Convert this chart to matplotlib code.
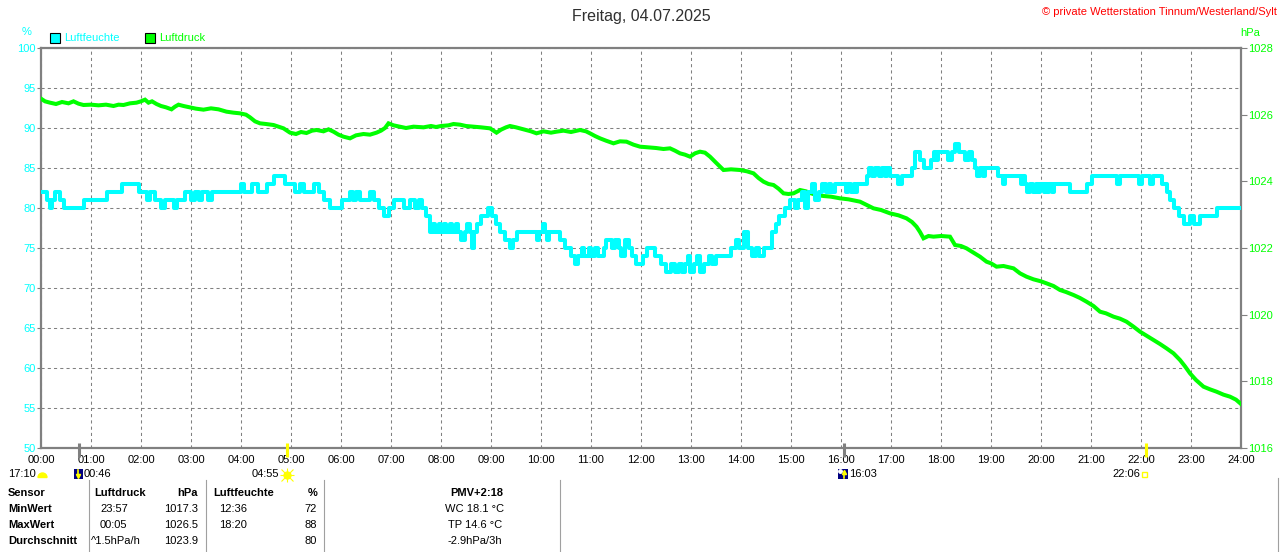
import matplotlib
matplotlib.use("Agg")
import matplotlib.pyplot as plt
import matplotlib.transforms as mtransforms
from matplotlib.patches import Rectangle, Wedge

plt.rcParams['font.family'] = ['Liberation Sans', 'DejaVu Sans']

# ---- data -------------------------------------------------------------
title = 'Freitag, 04.07.2025'
copyright_text = '\u00a9 private Wetterstation Tinnum/Westerland/Sylt'

hours = list(range(25))
hour_labels = ['%02d:00' % h for h in hours]
hum_ticks = [50, 55, 60, 65, 70, 75, 80, 85, 90, 95, 100]
press_ticks = [1016, 1018, 1020, 1022, 1024, 1026, 1028]

# Luftfeuchte (%), stepwise
hum_t = [0.00, 0.12, 0.18, 0.22, 0.27, 0.38, 0.45, 0.85, 1.31, 1.61, 1.95, 2.11, 2.18, 2.27, 2.40, 2.47,
         2.65, 2.72, 2.88, 3.00, 3.07, 3.15, 3.22, 3.33, 3.42, 4.00, 4.05, 4.21, 4.33, 4.51, 4.66, 4.88,
         5.08, 5.18, 5.25, 5.45, 5.55, 5.65, 5.78, 6.01, 6.18, 6.24, 6.30, 6.38, 6.58, 6.65, 6.75, 6.85,
         6.95, 7.05, 7.25, 7.38, 7.48, 7.55, 7.62, 7.70,
         7.78, 7.84, 7.88, 7.95, 8.00, 8.06, 8.10, 8.18, 8.22, 8.30, 8.34, 8.40, 8.48, 8.53, 8.58, 8.61,
         8.66, 8.72, 8.80, 8.95, 9.02, 9.10, 9.18, 9.28, 9.38, 9.44, 9.51, 9.91, 9.96, 10.03, 10.07, 10.11,
         10.16, 10.38, 10.48, 10.60, 10.68, 10.74, 10.82, 10.86, 10.95, 11.00, 11.08, 11.14, 11.25, 11.30,
         11.42, 11.48, 11.55, 11.60, 11.68, 11.76, 11.82, 11.90,
         12.04, 12.12, 12.28, 12.40, 12.50, 12.60, 12.68, 12.75, 12.82, 12.88, 12.93, 12.98, 13.06, 13.12,
         13.18, 13.26, 13.35, 13.42, 13.50, 13.80, 13.90, 13.95, 14.05, 14.14, 14.22, 14.30, 14.36, 14.46,
         14.62, 14.70, 14.76, 14.88, 14.98, 15.08, 15.13, 15.22, 15.28, 15.33, 15.42, 15.48, 15.55, 15.62,
         15.70, 15.75, 15.80, 15.88,
         16.10, 16.15, 16.20, 16.25, 16.28, 16.32, 16.51, 16.55, 16.62, 16.68, 16.75, 16.82, 16.88, 16.92,
         16.98, 17.15, 17.22, 17.41, 17.48, 17.58, 17.66, 17.80, 17.86, 17.90, 17.93, 18.15, 18.22, 18.28,
         18.35, 18.48, 18.55, 18.62, 18.68, 18.72, 18.78, 18.84, 18.88, 19.15, 19.23, 19.27, 19.60, 19.64,
         19.68, 19.72, 19.78, 19.84, 19.90, 19.94, 19.98, 20.05, 20.08, 20.12, 20.15, 20.22, 20.26, 20.58,
         20.91, 21.01, 21.51, 21.58, 21.95, 22.01, 22.18, 22.24, 22.41, 22.52, 22.58, 22.65, 22.75, 22.85,
         22.98, 23.05, 23.18, 23.52, 24.00]
hum_v = [82, 81, 80, 81, 82, 81, 80, 81, 82, 83, 82, 81, 82, 81, 80, 81,
         80, 81, 82, 81, 82, 81, 82, 81, 82, 83, 82, 83, 82, 83, 84, 83,
         82, 83, 82, 83, 82, 81, 80, 81, 82, 81, 82, 81, 82, 81, 80, 79,
         80, 81, 80, 81, 80, 81, 80, 79,
         77, 78, 77, 78, 77, 78, 77, 78, 77, 78, 77, 76, 77, 78, 77, 75,
         77, 78, 79, 80, 79, 78, 77, 76, 75, 76, 77, 76, 77, 78, 77, 76,
         77, 76, 75, 74, 73, 74, 75, 74, 75, 74, 75, 74, 75, 76,
         75, 76, 75, 74, 76, 75, 74, 73,
         74, 75, 74, 73, 72, 73, 72, 73, 72, 73, 74, 72, 73, 74,
         72, 73, 74, 73, 74, 75, 76, 75, 77, 75, 74, 75, 74, 75,
         77, 78, 79, 80, 81, 80, 81, 82, 80, 82, 83, 81, 82, 83,
         82, 83, 82, 83,
         82, 83, 82, 83, 82, 83, 84, 85, 84, 85, 84, 85, 84, 85,
         84, 83, 84, 85, 87, 86, 85, 86, 87, 86, 87, 86, 87, 88,
         87, 86, 87, 86, 85, 84, 85, 84, 85, 84, 83, 84, 83, 84,
         83, 82, 83, 82, 83, 82, 83, 82, 83, 82, 83, 82, 83, 82,
         83, 84, 83, 84, 83, 84, 83, 84, 83, 82, 81, 80, 79, 78,
         79, 78, 79, 80, 80]

# Luftdruck (hPa)
press_t = [0.00, 0.08, 0.18, 0.30, 0.42, 0.55, 0.65, 0.75, 0.85, 1.00, 1.15, 1.30, 1.45, 1.55, 1.65, 1.78, 1.91,
           2.00, 2.08, 2.15, 2.22, 2.31, 2.40, 2.50, 2.61, 2.68, 2.75, 2.85, 2.98, 3.10, 3.25, 3.40, 3.55, 3.71, 3.85,
           3.98, 4.10, 4.18, 4.28, 4.38, 4.50, 4.65, 4.75, 4.85, 4.98, 5.10, 5.20, 5.31, 5.42, 5.51, 5.65, 5.75, 5.85, 5.95,
           6.05, 6.18, 6.30, 6.45, 6.58, 6.71, 6.80, 6.88, 6.95, 7.05, 7.18, 7.30, 7.45, 7.65, 7.80, 7.90,
           8.00, 8.15, 8.25, 8.38, 8.50, 8.65, 8.80, 8.98, 9.05, 9.11, 9.20, 9.30, 9.38, 9.50, 9.65, 9.80, 9.91,
           10.05, 10.20, 10.31, 10.45, 10.60, 10.78, 10.90, 10.98, 11.08, 11.18, 11.30, 11.45, 11.58, 11.71, 11.85, 11.98,
           12.15, 12.30, 12.45, 12.58, 12.68, 12.78, 12.88, 12.98, 13.08, 13.18, 13.28, 13.38, 13.50, 13.65, 13.80, 13.98,
           14.12, 14.25, 14.35, 14.45, 14.55, 14.65, 14.75, 14.85, 14.95, 15.05, 15.18, 15.30, 15.40, 15.51, 15.65, 15.80,
           15.98, 16.15, 16.38, 16.50, 16.65, 16.80, 16.98, 17.15, 17.31, 17.42, 17.51, 17.58, 17.65, 17.75, 17.85,
           18.00, 18.18, 18.28, 18.40, 18.51, 18.65, 18.78, 18.91, 19.00, 19.11, 19.25, 19.45, 19.58, 19.71, 19.85,
           20.00, 20.11, 20.25, 20.38, 20.50, 20.65, 20.78, 20.91, 21.05, 21.18, 21.30, 21.45, 21.58, 21.71, 21.85,
           21.98, 22.10, 22.25, 22.38, 22.51, 22.65, 22.78, 22.88, 22.98, 23.10, 23.25, 23.38, 23.51, 23.65, 23.78, 23.90, 24.00]
press_v = [1026.48, 1026.40, 1026.36, 1026.32, 1026.38, 1026.34, 1026.40, 1026.33, 1026.29, 1026.30, 1026.28, 1026.30,
           1026.26, 1026.30, 1026.29, 1026.34, 1026.36,
           1026.40, 1026.45, 1026.36, 1026.40, 1026.32, 1026.26, 1026.22, 1026.16, 1026.24, 1026.30, 1026.26, 1026.22,
           1026.18, 1026.15, 1026.19, 1026.16, 1026.09, 1026.06,
           1026.04, 1026.00, 1025.92, 1025.80, 1025.74, 1025.72, 1025.69, 1025.64, 1025.59, 1025.46, 1025.42, 1025.48,
           1025.45, 1025.52, 1025.54, 1025.50, 1025.56, 1025.49, 1025.40,
           1025.34, 1025.29, 1025.38, 1025.42, 1025.40, 1025.46, 1025.52, 1025.60, 1025.74, 1025.68, 1025.64, 1025.60,
           1025.64, 1025.62, 1025.66, 1025.63,
           1025.66, 1025.68, 1025.72, 1025.70, 1025.66, 1025.64, 1025.62, 1025.59, 1025.52, 1025.46, 1025.55, 1025.62,
           1025.66, 1025.62, 1025.56, 1025.50, 1025.44,
           1025.50, 1025.46, 1025.49, 1025.52, 1025.48, 1025.54, 1025.50, 1025.44, 1025.36, 1025.29, 1025.22, 1025.14,
           1025.20, 1025.19, 1025.10, 1025.04,
           1025.02, 1025.00, 1024.97, 1024.99, 1024.92, 1024.84, 1024.80, 1024.74, 1024.84, 1024.89, 1024.86, 1024.74,
           1024.56, 1024.34, 1024.36, 1024.34,
           1024.30, 1024.24, 1024.10, 1023.99, 1023.92, 1023.89, 1023.78, 1023.64, 1023.62, 1023.64, 1023.74, 1023.70,
           1023.64, 1023.59, 1023.56, 1023.54,
           1023.49, 1023.46, 1023.39, 1023.30, 1023.19, 1023.14, 1023.04, 1022.98, 1022.89, 1022.78, 1022.64, 1022.48,
           1022.29, 1022.36, 1022.34,
           1022.36, 1022.34, 1022.09, 1022.06, 1021.99, 1021.86, 1021.74, 1021.59, 1021.54, 1021.44, 1021.46, 1021.39,
           1021.24, 1021.14, 1021.06,
           1021.00, 1020.94, 1020.86, 1020.74, 1020.68, 1020.59, 1020.50, 1020.39, 1020.26, 1020.09, 1020.04, 1019.94,
           1019.88, 1019.79, 1019.64,
           1019.49, 1019.38, 1019.24, 1019.12, 1018.99, 1018.84, 1018.64, 1018.45, 1018.24, 1018.04, 1017.84, 1017.76,
           1017.69, 1017.60, 1017.54, 1017.45, 1017.32]

assert len(hum_t) == len(hum_v), (len(hum_t), len(hum_v))
assert len(press_t) == len(press_v), (len(press_t), len(press_v))

# sun / moon events (hours)
moon_events = [0 + 46 / 60, 16 + 3 / 60]
sun_events = [4 + 55 / 60, 22 + 6 / 60]

# statistics table
table_header = ['Sensor', 'Luftdruck', 'hPa', 'Luftfeuchte', '%', 'PMV+2:18']
row_names = ['MinWert', 'MaxWert', 'Durchschnitt']
press_when = ['23:57', '00:05', '^1.5hPa/h']
press_vals = ['1017.3', '1026.5', '1023.9']
hum_when = ['12:36', '18:20', '']
hum_vals = ['72', '88', '80']
extra_vals = ['WC 18.1 \u00b0C', 'TP 14.6 \u00b0C', '-2.9hPa/3h']

CYAN = '#00FFFF'
GREEN = '#00FF00'
GREY = '#808080'
YELLOW = '#FFFF00'
FS = 8

# ---- figure -----------------------------------------------------------
W, H = 1280, 552
fig = plt.figure(figsize=(W / 100, H / 100), dpi=100)
fig.patch.set_facecolor('white')

# pixel overlay for the texts and table
ov = fig.add_axes([0, 0, 1, 1])
ov.set_xlim(0, W)
ov.set_ylim(H, 0)
ov.axis('off')

ax = fig.add_axes([41 / W, (H - 448) / H, 1200 / W, 400 / H])
ax.set_xlim(0, 24)
ax.set_ylim(50, 100)
ax.set_xticks(hours, hour_labels)
ax.set_yticks(hum_ticks)
ax.grid(True, color=GREY, linestyle=(0, (3, 3)), linewidth=0.75)
ax.tick_params(axis='x', length=0, pad=5, labelsize=FS, labelcolor='black')
ax.tick_params(axis='y', length=3, width=0.8, color=GREY, labelcolor=CYAN, pad=1, labelsize=FS)
for s in ax.spines.values():
    s.set_color(GREY)
    s.set_linewidth(1.6)

ax2 = ax.twinx()
ax2.set_ylim(1016, 1028)
ax2.set_yticks(press_ticks)
ax2.tick_params(axis='y', length=4, width=0.8, color=GREY, labelcolor=GREEN, pad=1, labelsize=FS)
for s in ax2.spines.values():
    s.set_visible(False)
ax2.plot(press_t, press_v, color=GREEN, linewidth=2.9, solid_joinstyle='miter')

ax3 = ax.twinx()
ax3.set_ylim(50, 100)
ax3.set_yticks([])
for s in ax3.spines.values():
    s.set_visible(False)
ax3.plot(hum_t, hum_v, color=CYAN, linewidth=2.9, drawstyle='steps-post')

trans = mtransforms.blended_transform_factory(ax3.transData, ax3.transAxes)
for t in moon_events:
    ax3.plot([t, t], [0.0125, -0.0225], color=GREY, linewidth=2.2, transform=trans,
             clip_on=False, solid_capstyle='butt')
for t in sun_events:
    ax3.plot([t, t], [0.0125, -0.0225], color=YELLOW, linewidth=2.2, transform=trans,
             clip_on=False, solid_capstyle='butt')

# ---- header texts -----------------------------------------------------
ov.text(641, 16, title, fontsize=11.5, color='#303030', ha='center', va='center')
ov.text(1277, 12, copyright_text, fontsize=8, color='red', ha='right', va='center')
ov.text(27, 32, '%', fontsize=FS, color=CYAN, ha='center', va='center')
ov.text(1250, 33, 'hPa', fontsize=FS, color=GREEN, ha='center', va='center')
ov.add_patch(Rectangle((50, 33), 9.5, 9.5, facecolor=CYAN, edgecolor='black', linewidth=0.8))
ov.text(64, 38, 'Luftfeuchte', fontsize=FS, color=CYAN, ha='left', va='center')
ov.add_patch(Rectangle((145, 33), 9.5, 9.5, facecolor=GREEN, edgecolor='black', linewidth=0.8))
ov.text(159, 38, 'Luftdruck', fontsize=FS, color=GREEN, ha='left', va='center')

# ---- sun / moon icons below the axis ------------------------------------
ev_y = 474
ov.text(8, ev_y, '17:10', fontsize=FS, ha='left', va='center')
ov.add_patch(Wedge((42.5, 477.5), 4.5, 180, 360, color=YELLOW))
ov.add_patch(Rectangle((73.5, 469), 9, 10, facecolor='#000080', edgecolor='none'))
ov.plot([78, 78], [470, 475], color=YELLOW, linewidth=1.2)
ov.plot(78, 476, marker='v', color=YELLOW, markersize=3)
ov.text(84, ev_y, '00:46', fontsize=FS, ha='left', va='center')
ov.text(252, ev_y, '04:55', fontsize=FS, ha='left', va='center')
ov.plot(286.5, 474.5, marker='o', color=YELLOW, markersize=5)
ov.plot(286.5, 474.5, marker='+', color=YELLOW, markersize=10, markeredgewidth=0.8)
ov.plot(286.5, 474.5, marker='x', color=YELLOW, markersize=8, markeredgewidth=0.8)
ov.add_patch(Rectangle((838, 469), 10, 10, facecolor='#000080', edgecolor='none'))
ov.plot(839.8, 470.8, marker='o', color='white', markersize=2.5)
ov.plot([844, 844], [472, 478], color=YELLOW, linewidth=1.2)
ov.plot(844, 472, marker='^', color=YELLOW, markersize=3)
ov.text(849, ev_y, '16:03', fontsize=FS, ha='left', va='center')
ov.text(1112, ev_y, '22:06', fontsize=FS, ha='left', va='center')
ov.add_patch(Rectangle((1142, 472), 5, 5, facecolor='none', edgecolor=YELLOW, linewidth=1))

# ---- statistics table -------------------------------------------------
for xs in [89, 206, 323.5, 559.5]:
    ov.plot([xs, xs], [480, 552], color='#A0A0A0', linewidth=0.8)
ov.plot([1278, 1278], [478, 552], color='#A0A0A0', linewidth=0.8)

row_y = [493, 509, 525.5, 541.5]
ov.text(8, row_y[0], table_header[0], fontsize=FS, fontweight='bold', ha='left', va='center')
ov.text(94, row_y[0], table_header[1], fontsize=FS, fontweight='bold', ha='left', va='center')
ov.text(198, row_y[0], table_header[2], fontsize=FS, fontweight='bold', ha='right', va='center')
ov.text(213, row_y[0], table_header[3], fontsize=FS, fontweight='bold', ha='left', va='center')
ov.text(317, row_y[0], table_header[4], fontsize=FS, fontweight='bold', ha='right', va='center')
ov.text(477, row_y[0], table_header[5], fontsize=FS, fontweight='bold', ha='center', va='center')
for i in range(3):
    y = row_y[i + 1]
    ov.text(8, y, row_names[i], fontsize=FS, fontweight='bold', ha='left', va='center')
    px = 91 if press_when[i].startswith('^') else 100
    ov.text(px, y, press_when[i], fontsize=FS, ha='left', va='center')
    ov.text(198, y, press_vals[i], fontsize=FS, ha='right', va='center')
    ov.text(219, y, hum_when[i], fontsize=FS, ha='left', va='center')
    ov.text(317, y, hum_vals[i], fontsize=FS, ha='right', va='center')
    ov.text(475, y, extra_vals[i], fontsize=FS, ha='center', va='center')

fig.savefig('out.png', dpi=100, facecolor='white')
